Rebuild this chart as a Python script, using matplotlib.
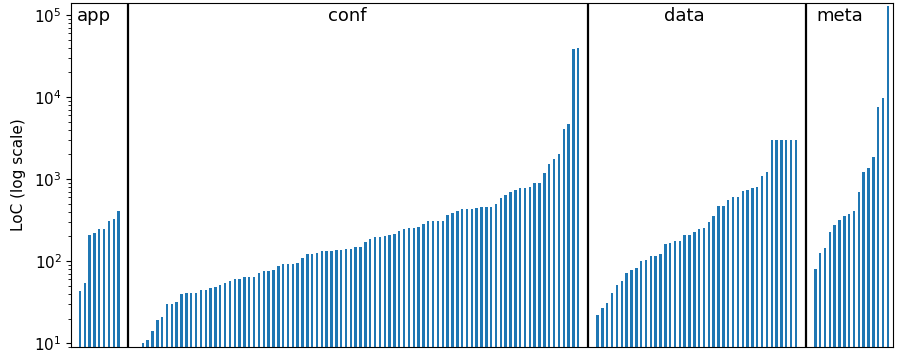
import numpy as np
import matplotlib
matplotlib.use("Agg")
import matplotlib.pyplot as plt

# lines of code per file, sorted within each group
app_loc = [43, 54, 209, 218, 245, 245, 310, 331, 410]
conf_loc = [9, 10, 11, 14, 19, 21, 30, 30, 32, 40,
            41, 41, 41, 44, 45, 47, 49, 51, 54, 58,
            60, 60, 65, 65, 65, 72, 76, 76, 79, 87,
            93, 93, 93, 96, 110, 121, 124, 127, 132, 132,
            132, 136, 136, 142, 142, 150, 150, 171, 184, 196,
            196, 202, 208, 216, 232, 248, 255, 255, 263, 286,
            307, 307, 307, 307, 361, 389, 412, 427, 435, 435,
            443, 460, 460, 460, 501, 587, 632, 694, 734, 785,
            785, 807, 903, 903, 1175, 1514, 1775, 2040, 4035, 4690,
            38900, 40000]
data_loc = [22, 27, 31, 41, 51, 57, 71, 78, 82, 101,
            104, 117, 117, 122, 161, 167, 177, 177, 209, 209,
            224, 250, 257, 301, 357, 472, 472, 560, 598, 598,
            720, 741, 770, 791, 1078, 1228, 3020, 3020, 3020, 3020,
            3020, 3020]
meta_loc = [80, 125, 143, 224, 275, 319, 351, 371, 403, 700,
            1228, 1349, 1840, 7480, 9730, 127600]

group_names = ["app", "conf", "data", "meta"]
group_vals = [app_loc, conf_loc, data_loc, meta_loc]
label_x = [-0.7, 51.3, 120.8, 152.3]

gap = 3

fig, ax = plt.subplots(figsize=(8.99, 3.55), dpi=100)
fig.subplots_adjust(left=0.0795, right=0.993, bottom=0.0225, top=0.991)

start = 0
for name, vals, lx in zip(group_names, group_vals, label_x):
    xs = np.arange(start, start + len(vals))
    ax.bar(xs, vals, width=0.5, color="C0")
    if start > 0:
        # separator halfway across the gap between groups
        ax.axvline(start - (gap + 1) / 2, color="black", lw=1.6)
    ax.text(lx, 0.948, name, transform=ax.get_xaxis_transform(),
            fontsize=13, va="baseline", ha="left")
    start += len(vals) + gap

ax.set_yscale("log")
ax.set_ylim(9, 1.39e5)
ax.set_xlim(-1.75, 168)
ax.set_xticks([])
ax.tick_params(axis="y", labelsize=11)
ax.set_ylabel("LoC (log scale)", fontsize=11, labelpad=6)

fig.savefig("out.png", dpi=100)
